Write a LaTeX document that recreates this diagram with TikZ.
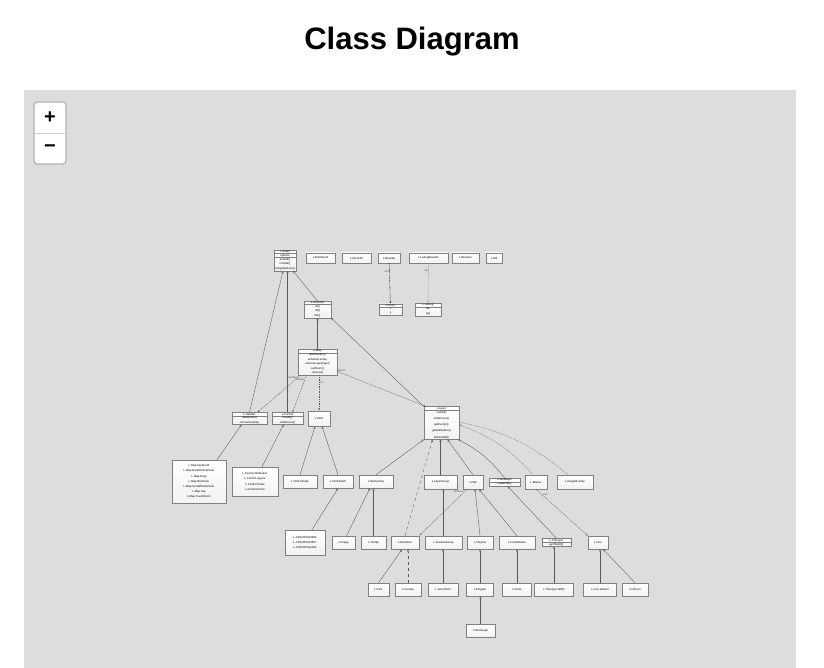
\documentclass[tikz,border=0pt]{standalone}
\usepackage{fontspec}
\setmainfont{Liberation Sans}
\usepackage{xcolor}
\usepackage{tikz}
\usetikzlibrary{shapes.multipart,arrows.meta,shadows}

\definecolor{panelgray}{HTML}{DDDDDD}

\begin{document}
\begin{tikzpicture}[x=1pt,y=-1pt,
  box/.style={draw=black!50, top color=white, bottom color=black!5, line width=0.4pt,
    inner xsep=0.8pt, inner ysep=0.5pt, font=\fontsize{2.8}{4.6}\selectfont, minimum height=13, align=center,
    drop shadow={shadow xshift=0.5pt, shadow yshift=-0.5pt, opacity=0.3, fill=black!60}},
  ubox/.style={box, rectangle split, rectangle split parts=#1, minimum height=0pt,
    rectangle split part align=center},
  isa/.style={-{Triangle[open,length=2.2pt,width=2.2pt]}, draw=black!65, line width=0.35pt},
  has/.style={-{Latex[length=2pt,width=1.6pt]}, dash pattern=on 1pt off 0.7pt, draw=black!65, line width=0.35pt},
  agg/.style={draw=black!55, line width=0.35pt, dash pattern=on 1.2pt off 0.8pt},
  lbl/.style={font=\fontsize{2.6}{3}\selectfont, text=black!70, inner sep=0.5pt}]
\useasboundingbox (0,0) rectangle (824,668);
%背景
\fill[white] (0,0) rectangle (824,668);
\fill[panelgray] (24,90) rectangle (796,668);
\node[font=\fontsize{31}{36}\selectfont\bfseries] (title) at (412,42) {Class Diagram};
%缩放按钮
\draw[black!30, line width=1.2pt, fill=white, rounded corners=3pt] (34,102) rectangle (66,164);
\draw[black!20, line width=0.6pt] (35,133) -- (65,133);
\node[font=\fontsize{20}{20}\selectfont\bfseries] (zoomin) at (50,118) {+};
\node[font=\fontsize{20}{20}\selectfont\bfseries] (zoomout) at (50,148.5) {−};

%顶层
\node[ubox=3, minimum width=22] (class) at (285,260.5) {L.Class \nodepart{two} options \nodepart{three} extend()\\include()\\mergeOptions()};
\node[box, minimum width=29, minimum height=10] (domevent) at (320.5,258) {L.DomEvent};
\node[box, minimum width=29, minimum height=10] (domutil) at (356.5,258) {L.DomUtil};
\node[box, minimum width=22, minimum height=10] (bounds) at (389,258) {L.Bounds};
\node[box, minimum width=39, minimum height=10] (latlngbounds) at (428.5,258) {L.LatLngBounds};
\node[box, minimum width=27, minimum height=10] (browser) at (465.5,258) {L.Browser};
\node[box, minimum width=16, minimum height=10] (util) at (494,258) {L.Util};
%第二层
\node[ubox=2, minimum width=23] (point) at (390.5,309.5) {L.Point \nodepart{two} x\\y};
\node[ubox=2, minimum width=26] (latlng) at (428,309.5) {L.LatLng \nodepart{two} lat\\lng};
\node[ubox=2, minimum width=27] (evented) at (317.5,309.5) {L.Evented \nodepart{two} on()\\off()\\fire()};
%第三层
\node[ubox=2, minimum width=39] (map) at (317.5,362) {L.Map \nodepart{two} addHandler()\\setView(center)\\removeLayer(layer)\\setZoom()\\remove()};
%第四层
\node[ubox=2, minimum width=35] (handler) at (249.5,418.5) {L.Handler \nodepart{two} addHooks()\\removeHooks()};
\node[ubox=2, minimum width=31] (control) at (287.5,418.5) {L.Control \nodepart{two} onAdd()\\onRemove()};
\node[box, minimum width=22, minimum height=15, line width=0.8pt] (crs) at (319,418.5) {L.CRS};
\node[ubox=2, minimum width=35, font=\fontsize{2.8}{6.2}\selectfont] (layer) at (441.5,423) {L.Layer \nodepart{two} onAdd()\\onRemove()\\getEvents()\\getAttribution()\\beforeAdd()};
%第五层
\node[box, minimum width=54, minimum height=43, font=\fontsize{2.8}{5.2}\selectfont] (maphandlers) at (199,481.5) {L.Map.Keyboard\\L.Map.DoubleClickZoom\\L.Map.Drag\\L.Map.BoxZoom\\L.Map.ScrollWheelZoom\\L.Map.Tap\\L.Map.TouchZoom};
\node[box, minimum width=46, minimum height=29, font=\fontsize{2.8}{5.5}\selectfont] (controls) at (255,481.5) {L.Control.Attribution\\L.Control.Layers\\L.Control.Scale\\L.Control.Zoom};
\node[box, minimum width=34] (crssimple) at (300,481.5) {L.CRS.Simple};
\node[box, minimum width=30] (crsearth) at (338,481.5) {L.CRS.Earth};
\node[box, minimum width=34] (divoverlay) at (376,481.5) {L.DivOverlay};
\node[box, minimum width=33, minimum height=14] (layergroup) at (440.5,482) {L.LayerGroup};
\node[box, minimum width=20, minimum height=14] (path) at (473,482) {L.Path};
\node[ubox=2, minimum width=31] (gridlayer) at (504.5,482) {L.GridLayer \nodepart{two} createTile()};
\node[box, minimum width=22, minimum height=14] (marker) at (536,482) {L.Marker};
\node[box, minimum width=36, minimum height=14] (imageoverlay) at (575,482) {L.ImageOverlay};
%第六层
\node[box, minimum width=40, minimum height=25, font=\fontsize{2.8}{5}\selectfont] (epsg) at (305,542.5) {L.CRS.EPSG3395\\L.CRS.EPSG3857\\L.CRS.EPSG4326};
\node[box, minimum width=23] (popup) at (343.5,542.5) {L.Popup};
\node[box, minimum width=25] (tooltip) at (373.5,542.5) {L.Tooltip};
\node[box, minimum width=28, line width=0.8pt] (renderer) at (405,542.5) {L.Renderer};
\node[box, minimum width=37] (featuregroup) at (443.5,542.5) {L.FeatureGroup};
\node[box, minimum width=26] (polyline) at (480,542.5) {L.Polyline};
\node[box, minimum width=36] (circlemarker) at (517,542.5) {L.CircleMarker};
\node[ubox=2, minimum width=29] (tilelayer) at (556.5,542.5) {L.TileLayer \nodepart{two} getTileUrl()};
\node[box, minimum width=20] (icon) at (598,542.5) {L.Icon};
%底层
\node[box, minimum width=21] (svg) at (378.5,589.5) {L.SVG};
\node[box, minimum width=26] (canvas) at (408,589.5) {L.Canvas};
\node[box, minimum width=30] (geojson) at (443,589.5) {L.GeoJSON};
\node[box, minimum width=27] (polygon) at (480,589.5) {L.Polygon};
\node[box, minimum width=29] (circle) at (517,589.5) {L.Circle};
\node[box, minimum width=39] (wms) at (554,589.5) {L.TileLayer.WMS};
\node[box, minimum width=33] (icondefault) at (600,589.5) {L.Icon.Default};
\node[box, minimum width=26] (divicon) at (635,589.5) {L.DivIcon};
\node[box, minimum width=29] (rectangle) at (480.5,630.5) {L.Rectangle};

%连线
\draw[isa] (evented.north) -- ([xshift=-3]class.south east);
\draw[isa] (handler.north) -- ([xshift=-2]class.south);
\draw[isa] (control.north) -- (control.north |- class.south);
\draw[isa] (map) -- (evented);
\draw[isa] (layer.north west) -- (evented.south east);

\draw[has, draw=black] (bounds) -- node[lbl, left, pos=0.2] {min} (point);
\draw[has, draw=black!40] (latlngbounds) -- node[lbl, left, pos=0.2] {sw} (latlng);

\draw[has] ([xshift=-17]map.south) -- node[lbl, pos=0.05, left] {handlers} ([xshift=8]handler.north);
\draw[has] ([xshift=-11]map.south) -- node[lbl, pos=0.12, left] {controls} ([xshift=5]control.north);
\draw[has] (crs.north |- map.south) -- node[lbl, pos=0.2, right] {crs} (crs.north);
\draw[has] ([yshift=4]map.south east) -- node[lbl, pos=0.05, above] {layers} ([xshift=2]layer.north west);

\draw[isa] ([xshift=18]maphandlers.north) -- ([xshift=-8]handler.south);
\draw[isa] ([xshift=7]controls.north) -- ([xshift=-4]control.south);
\draw[isa] (crssimple.north) -- ([xshift=-4]crs.south);
\draw[isa] (crsearth.north) -- ([xshift=3]crs.south);
\draw[isa] ([xshift=7]epsg.north) -- (crsearth.south);

\draw[isa] (divoverlay.north) -- (layer.south west);
\draw[isa, dashed] (renderer.north) -- ([xshift=-9]layer.south);
\draw[isa] (layergroup.north) -- (layergroup.north |- layer.south);
\draw[isa] (path.north) -- ([xshift=6]layer.south);
\draw[isa] (gridlayer.north) to[bend right=12] ([xshift=-1]layer.south east);
\draw[agg, {Diamond[open,length=2.5pt,width=2pt]}-] ([yshift=-2]layer.east) to[bend left=14] ([xshift=-3]marker.north);
\draw[agg] ([yshift=1]layer.east) to[bend left=14] ([xshift=-7]imageoverlay.north);

\draw[isa] ([xshift=3]popup.north) -- ([xshift=-6]divoverlay.south);
\draw[isa] (tooltip.north) -- (tooltip.north |- divoverlay.south);
\draw[isa] (featuregroup.north) -- (featuregroup.north |- layergroup.south);
\draw[isa] (polyline.north) -- ([xshift=2]path.south);
\draw[isa] (circlemarker.north) -- ([xshift=6]path.south);
\draw[isa] (tilelayer.north) -- ([xshift=3]gridlayer.south);
\draw[has] ([xshift=-6]path.south) -- node[lbl, pos=0.05, left] {renderer} (renderer.north east);
\draw[has] (marker.south) -- node[lbl, pos=0.12, right] {icon} (icon.north west);

\draw[isa] (svg.north) -- ([xshift=-3]renderer.south);
\draw[isa, dashed] (canvas.north) -- (canvas.north |- renderer.south);
\draw[isa] (geojson.north) -- (geojson.north |- featuregroup.south);
\draw[isa] (polygon.north) -- (polygon.north |- polyline.south);
\draw[isa] (rectangle.north) -- (rectangle.north |- polygon.south);
\draw[isa] (circle.north) -- (circle.north |- circlemarker.south);
\draw[isa] (wms.north) -- (wms.north |- tilelayer.south);
\draw[isa] (icondefault.north) -- (icondefault.north |- icon.south);
\draw[isa] (divicon.north) -- ([xshift=5]icon.south);
\end{tikzpicture}
\end{document}
